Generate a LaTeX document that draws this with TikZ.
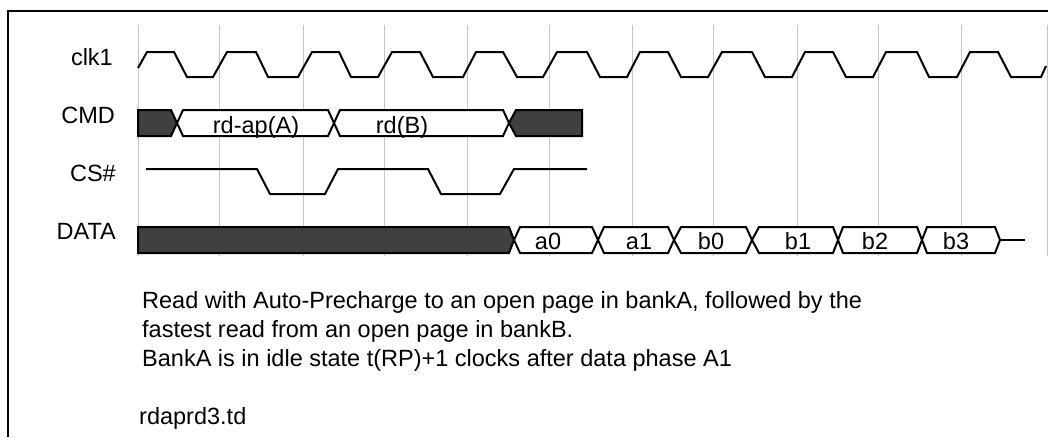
\documentclass[tikz,border=0pt]{standalone}
\usepackage{fontspec}
\setmainfont{Liberation Sans}
\tikzset{
  gridline/.style={gray!45,line width=0.9pt},
  frameline/.style={black,line width=2.4pt},
  wave/.style={black,line width=2pt,line join=miter},
  busdark/.style={wave,fill=black!75},
  buslight/.style={wave,fill=white},
  siglabel/.style={anchor=base east,inner sep=0pt,font=\fontsize{23.5}{28}\selectfont},
  buslabel/.style={anchor=base,inner sep=0pt,font=\fontsize{23.5}{28}\selectfont},
  notetext/.style={anchor=base west,inner sep=0pt,font=\fontsize{23.5}{28}\selectfont}
}
\begin{document}
\begin{tikzpicture}[x=1pt,y=-1pt]
  \useasboundingbox (0,0) rectangle (1048,437);
  % frame
  \draw[frameline] (8,437) -- (8,11) -- (1048,11);
  % clock grid
  \foreach \gx in {138,219,303,384,467,549,632,713,797,878,961,1047}
    \draw[gridline] (\gx,25) -- (\gx,256);
  % clk1
  \draw[wave] (138,68) -- (147,52) -- (174,52) -- (187,77) -- (213,77)
    -- (227,52) -- (256,52) -- (268,77) -- (298,77)
    -- (312,52) -- (339,52) -- (351,77) -- (378,77)
    -- (392,52) -- (420,52) -- (433,77) -- (463,77)
    -- (476,52) -- (503,52) -- (517,77) -- (543,77)
    -- (557,52) -- (587,52) -- (600,77) -- (627,77)
    -- (640,52) -- (668,52) -- (681,77) -- (708,77)
    -- (722,52) -- (752,52) -- (765,77) -- (792,77)
    -- (805,52) -- (833,52) -- (846,77) -- (873,77)
    -- (886,52) -- (917,52) -- (929,77) -- (957,77)
    -- (970,52) -- (998,52) -- (1011,77) -- (1041,77) -- (1046,66);
  % CMD
  \draw[busdark] (138,110) -- (171,110) -- (177,123) -- (171,136) -- (138,136) -- cycle;
  \draw[buslight] (177,123) -- (183,110) -- (328,110) -- (334,123) -- (328,136) -- (183,136) -- cycle;
  \draw[buslight] (334,123) -- (340,110) -- (503,110) -- (509,123) -- (503,136) -- (340,136) -- cycle;
  \draw[busdark] (509,123) -- (516,110) -- (582,110) -- (582,136) -- (516,136) -- cycle;
  % CS#
  \draw[wave] (146,169) -- (257,169) -- (270,194) -- (325,194) -- (338,169)
    -- (428,169) -- (441,194) -- (500,194) -- (514,169) -- (587,169);
  % DATA
  \draw[busdark] (138,227) -- (509,227) -- (514,240) -- (509,253) -- (138,253) -- cycle;
  \draw[buslight] (514,240) -- (520,227) -- (592,227) -- (598,240) -- (592,253) -- (520,253) -- cycle;
  \draw[buslight] (598,240) -- (604,227) -- (668,227) -- (674,240) -- (668,253) -- (604,253) -- cycle;
  \draw[buslight] (674,240) -- (681,227) -- (746,227) -- (752,240) -- (746,253) -- (681,253) -- cycle;
  \draw[buslight] (752,240) -- (759,227) -- (833,227) -- (838,240) -- (833,253) -- (759,253) -- cycle;
  \draw[buslight] (838,240) -- (843,227) -- (917,227) -- (922,240) -- (917,253) -- (843,253) -- cycle;
  \draw[buslight] (922,240) -- (927,227) -- (995,227) -- (1000,240) -- (995,253) -- (927,253) -- cycle;
  \draw[wave] (1000,240) -- (1025,240);
  % names
  \node[siglabel] (clk) at (113,65) {clk1};
  \node[siglabel] (cmd) at (115,123) {CMD};
  \node[siglabel] (cs) at (116,181) {CS\#};
  \node[siglabel] (data) at (116,239) {DATA};
  % values
  \node[buslabel] (rdap) at (256,133) {rd-ap(A)};
  \node[buslabel] (rdb) at (402,133) {rd(B)};
  \node[buslabel] (a0) at (548,249) {a0};
  \node[buslabel] (a1) at (639,249) {a1};
  \node[buslabel] (b0) at (711,249) {b0};
  \node[buslabel] (b1) at (798,249) {b1};
  \node[buslabel] (b2) at (875,249) {b2};
  \node[buslabel] (b3) at (956,249) {b3};
  % notes
  \node[notetext] (noteone) at (142,308) {Read with Auto-Precharge to an open page in bankA, followed by the};
  \node[notetext] (notetwo) at (142,337) {fastest read from an open page in bankB.};
  \node[notetext] (notethree) at (142,366) {BankA is in idle state t(RP)+1 clocks after data phase A1};
  \node[notetext] (fname) at (139,424) {rdaprd3.td};
\end{tikzpicture}
\end{document}
